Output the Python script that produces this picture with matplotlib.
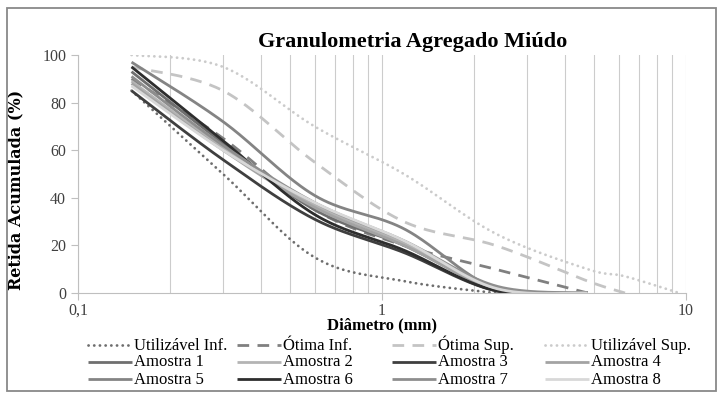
import numpy as np
import matplotlib
matplotlib.use("Agg")
import matplotlib.pyplot as plt
from matplotlib.patches import Rectangle
from matplotlib.lines import Line2D
from matplotlib.ticker import FixedLocator, NullFormatter, FixedFormatter

plt.rcParams['font.family'] = ['Liberation Serif', 'DejaVu Serif']

# ---- data ----
sieves = [0.15, 0.3, 0.6, 1.18, 2.36, 4.75, 6.3, 9.5]

util_inf = [85, 50, 15, 5, 0]
otima_inf = [90, 65, 35, 20, 10, 0]
otima_sup = [95, 85, 55, 30, 20, 5, 0]
util_sup = [100, 95, 70, 50, 25, 10, 7, 0]

amostra_1 = [93, 63, 35, 20, 2, 0]
amostra_2 = [89, 61, 37, 21, 2, 0]
amostra_3 = [85, 56, 31, 17, 1, 0]
amostra_4 = [88, 60, 36, 20, 2, 0]
amostra_5 = [97, 72, 41, 27, 2, 0]
amostra_6 = [95, 64, 33, 18, 1, 0]
amostra_7 = [91, 62, 38, 22, 3, 0]
amostra_8 = [87, 60, 38, 22, 2, 0]

limit_labels = ["Utilizável Inf.", "Ótima Inf.", "Ótima Sup.", "Utilizável Sup."]
sample_labels = ["Amostra 1", "Amostra 2", "Amostra 3", "Amostra 4",
                 "Amostra 5", "Amostra 6", "Amostra 7", "Amostra 8"]
x_tick_values = [0.1, 1, 10]
x_tick_labels = ["0,1", "1", "10"]
y_tick_values = [0, 20, 40, 60, 80, 100]


def smooth(xs, ys, n=40):
    """Excel-like smoothed line (Catmull-Rom Bezier) in log-x space."""
    P = np.column_stack([np.log10(xs), ys]).astype(float)
    out = []
    m = len(P)
    for i in range(m - 1):
        p0 = P[i - 1] if i > 0 else P[i]
        p3 = P[i + 2] if i + 2 < m else P[i + 1]
        c1 = P[i] + (P[i + 1] - p0) / 6.0
        c2 = P[i + 1] - (p3 - P[i]) / 6.0
        t = np.linspace(0, 1, n)[:, None]
        seg = ((1 - t) ** 3) * P[i] + 3 * ((1 - t) ** 2) * t * c1 + 3 * (1 - t) * t ** 2 * c2 + t ** 3 * P[i + 1]
        if i > 0:
            seg = seg[1:]
        out.append(seg)
    out = np.vstack(out)
    return 10 ** out[:, 0], out[:, 1]


W, H = 726, 394
fig = plt.figure(figsize=(W / 100, H / 100), dpi=100)
ax = fig.add_axes([78 / W, 101 / H, 608 / W, 238 / H])

dot = (0, (0.05, 2.0))
dash = (0, (4.2, 3.0))

styles = []
series = [
    (util_inf, limit_labels[0], '#6e6e6e', dot),
    (otima_inf, limit_labels[1], '#808080', dash),
    (otima_sup, limit_labels[2], '#c4c4c4', dash),
    (util_sup, limit_labels[3], '#cbcbcb', dot),
]
for vals, lab, col, ls in series:
    xs, ys = smooth(sieves[:len(vals)], vals)
    cap = 'round' if ls is dot else 'butt'
    ax.plot(xs, ys, color=col, lw=2.0, linestyle=ls, dash_capstyle=cap)
    styles.append((lab, dict(color=col, lw=2.0, linestyle=ls, dash_capstyle=cap)))

samples = [amostra_1, amostra_2, amostra_3, amostra_4,
           amostra_5, amostra_6, amostra_7, amostra_8]
sample_colors = ['#6f6f6f', '#b4b4b4', '#3f3f3f', '#a3a3a3',
                 '#848484', '#2e2e2e', '#8e8e8e', '#d8d8d8']
for vals, lab, col in zip(samples, sample_labels, sample_colors):
    xs, ys = smooth(sieves[:len(vals)], vals)
    ax.plot(xs, ys, color=col, lw=2.0, solid_capstyle='butt')
    styles.append((lab, dict(color=col, lw=2.0, solid_capstyle='butt')))

ax.set_xscale('log')
ax.set_xlim(0.1, 10)
ax.set_ylim(0, 100)
ax.xaxis.set_major_locator(FixedLocator(x_tick_values))
ax.xaxis.set_major_formatter(FixedFormatter(x_tick_labels))
ax.xaxis.set_minor_formatter(NullFormatter())
ax.set_yticks(y_tick_values)
ax.tick_params(axis='both', which='major', length=5, width=0.8, color='#bfbfbf',
               labelsize=11.5, labelcolor='#404040')
ax.tick_params(axis='x', which='major', pad=2)
ax.tick_params(axis='x', which='minor', length=0)
ax.grid(True, axis='x', which='both', color='#cccccc', lw=0.8)
ax.set_axisbelow(True)
for s in ['top', 'right']:
    ax.spines[s].set_visible(False)
for s in ['left', 'bottom']:
    ax.spines[s].set_color('#bfbfbf')
    ax.spines[s].set_linewidth(0.8)

ax.set_xlabel('Diâmetro (mm)', fontsize=12, fontweight='bold')
ax.xaxis.set_label_coords(0.5, -(325 - 293) / 238)
ax.xaxis.label.set_va('center')
ax.set_ylabel('Retida Acumulada (%)', fontsize=11.5, fontweight='bold',
              family=['DejaVu Serif'])
ax.yaxis.set_label_coords((16 - 78) / 608, (293 - 190) / 238)
ax.yaxis.label.set_va('center')
fig.text(413 / W, 1 - 42 / H, 'Granulometria Agregado Miúdo', fontsize=16,
         fontweight='bold', ha='center', va='center')

# legend: 4 equal-width columns, 3 rows, filled row by row
col_x = [88, 237, 392, 545]
row_y = [345, 362, 379]
handle_len = 44
for k, (lab, kw) in enumerate(styles):
    r, c = divmod(k, 4)
    x0 = col_x[c]
    y = row_y[r]
    fig.add_artist(Line2D([x0 / W, (x0 + handle_len) / W], [1 - y / H, 1 - y / H],
                          transform=fig.transFigure, **kw))
    fig.text((x0 + handle_len + 2) / W, 1 - (y + 4.5) / H, lab, fontsize=12,
             ha='left', va='baseline')

fig.add_artist(Rectangle((7 / W, 3 / H), 709 / W, 383 / H,
                         transform=fig.transFigure, fill=False,
                         edgecolor='#898989', lw=1.3))

fig.savefig('out.png', dpi=100)
